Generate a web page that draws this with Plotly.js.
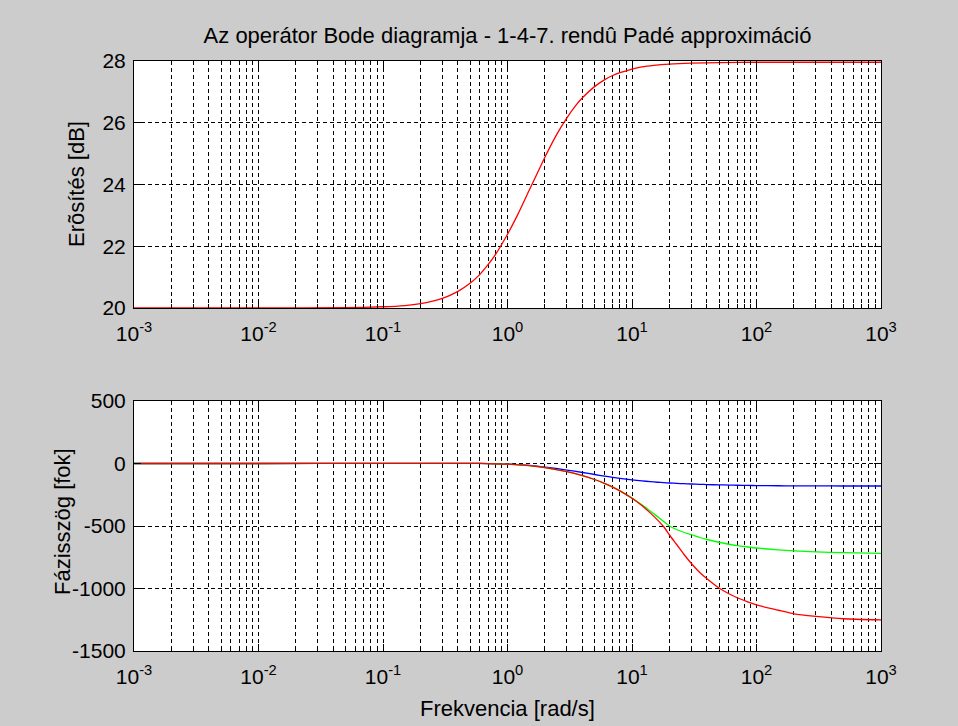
<!DOCTYPE html>
<html>
<head>
<meta charset="utf-8">
<script src="https://cdn.plot.ly/plotly-3.0.1.min.js"></script>
<style>html,body{margin:0;padding:0;background:#cccccc;}#chart{width:958px;height:726px;}</style>
</head>
<body>
<div id="chart"></div>
<script>
// ---- Gain (top panel) ----
const gainFreq = [0.001, 0.01, 0.05, 0.1, 0.15, 0.2, 0.25, 0.3, 0.4, 0.5, 0.6, 0.7, 0.8, 1, 1.2, 1.5, 1.8, 2, 2.5, 3, 3.5, 4, 5, 6, 7, 8, 10, 12, 15, 20, 30, 50, 100, 1000];
const gainDb   = [20.00, 20.00, 20.01, 20.04, 20.08, 20.14, 20.22, 20.31, 20.54, 20.80, 21.09, 21.41, 21.73, 22.39, 23.00, 23.83, 24.50, 24.89, 25.64, 26.16, 26.54, 26.81, 27.17, 27.39, 27.53, 27.62, 27.74, 27.81, 27.86, 27.90, 27.93, 27.95, 27.96, 27.96];

// ---- Phase (bottom panel) ----
const phaseFreq = [0.001, 0.01, 0.1, 0.3, 0.5, 0.7, 1, 1.5, 2, 3, 4, 5, 6, 7, 8, 10, 12, 14, 16, 18, 20, 23, 26, 30, 35, 40, 50, 60, 70, 85, 100, 150, 200, 300, 500, 1000];
const phasePade1 = [0, 0.06, 0.5, 1.0, 0.8, -0.5, -4.9, -15.8, -28.4, -52.4, -72.0, -88.0, -100.5, -110.5, -118.5, -130.5, -139.0, -145.0, -150.0, -153.5, -156.0, -159.0, -161.5, -164.0, -166.5, -168.5, -171.0, -172.5, -174.0, -175.5, -176.5, -178.0, -178.8, -179.4, -179.8, -180.0];
const phasePade4 = [0, 0.06, 0.5, 1.0, 0.8, -0.7, -5.45, -17.6, -32.5, -64.6, -96.6, -128.0, -158.7, -189.0, -219.0, -277.0, -331.0, -380.0, -425.0, -465.0, -500.0, -530.0, -550.0, -570.0, -592.0, -608.0, -630.0, -646.0, -657.0, -668.0, -676.0, -691.0, -699.0, -707.0, -713.0, -719.0];
const phasePade7 = [0, 0.06, 0.5, 1.0, 0.8, -0.7, -5.45, -17.6, -32.5, -64.6, -96.6, -128.0, -158.7, -189.0, -219.0, -278.2, -336.8, -395.0, -451.0, -506.0, -572.0, -652.0, -724.0, -800.0, -872.0, -922.0, -996.0, -1042.0, -1074.0, -1107.0, -1131.0, -1174.0, -1203.0, -1223.0, -1242.0, -1251.0];

// ---- Axis tick labels ----
const xTickVals = [0.001, 0.01, 0.1, 1, 10, 100, 1000];
const xTickText = ['10<sup>-3</sup>', '10<sup>-2</sup>', '10<sup>-1</sup>', '10<sup>0</sup>', '10<sup>1</sup>', '10<sup>2</sup>', '10<sup>3</sup>'];
const gainTicks = [20, 22, 24, 26, 28];
const gainTickText = ['20', '22', '24', '26', '28'];
const phaseTicks = [-1500, -1000, -500, 0, 500];
const phaseTickText = ['-1500', '-1000', '-500', '0', '500'];

const titleText = 'Az operátor Bode diagramja - 1-4-7. rendû Padé approximáció';
const gainLabel = 'Erõsítés [dB]';
const phaseLabel = 'Fázisszög [fok]';
const freqLabel = 'Frekvencia [rad/s]';

const minorVals = [];
for (let i = 0; i < xTickVals.length - 1; i++) {
  for (let m = 2; m <= 9; m++) minorVals.push(xTickVals[i] * m);
}

const FONT = 'Liberation Sans, Arial, sans-serif';
const fsTick = 21;
const fsTitle = 22;
const dash = '4px,3px';

// plot area in pixels: x 134..881, y 61..651
const W = 958, H = 726, L = 134, R = 77, T = 61, B = 75;
const plotH = H - T - B;
const py = (p) => (H - B - p) / plotH;          // pixel y -> paper y
const px = (p) => (p - L) / (W - L - R);        // pixel x -> paper x

function xAxis(anchor) {
  return {
    type: 'log', range: [-3, 3], anchor: anchor,
    tickmode: 'array', tickvals: xTickVals, ticktext: xTickText,
    ticks: 'inside', ticklen: 7, tickcolor: '#000', tickwidth: 1,
    showgrid: true, gridcolor: '#000', gridwidth: 1, griddash: dash,
    minor: { tickmode: 'array', tickvals: minorVals, ticks: 'inside', ticklen: 4, tickcolor: '#000',
             showgrid: true, gridcolor: '#000', gridwidth: 1, griddash: dash },
    showline: true, linecolor: '#000', linewidth: 1, mirror: 'ticks',
    zeroline: false,
    tickfont: { family: FONT, size: fsTick, color: '#000' },
    ticklabelstandoff: 7
  };
}
function yAxis(range, ticks, text, domain, anchor) {
  return {
    range: range, domain: domain, anchor: anchor,
    tickmode: 'array', tickvals: ticks, ticktext: text,
    ticks: 'inside', ticklen: 7, tickcolor: '#000', tickwidth: 1,
    showgrid: true, gridcolor: '#000', gridwidth: 1, griddash: dash,
    showline: true, linecolor: '#000', linewidth: 1, mirror: 'ticks',
    zeroline: false,
    tickfont: { family: FONT, size: fsTick, color: '#000' },
    ticklabelstandoff: 3
  };
}

const lineOpts = (c) => ({ color: c, width: 1.3, shape: 'spline', smoothing: 0.6 });
const traces = [
  { x: gainFreq, y: gainDb, xaxis: 'x', yaxis: 'y', mode: 'lines', line: lineOpts('#ff0000'), showlegend: false },
  { x: phaseFreq, y: phasePade1, xaxis: 'x2', yaxis: 'y2', mode: 'lines', line: lineOpts('#0000ff'), showlegend: false },
  { x: phaseFreq, y: phasePade4, xaxis: 'x2', yaxis: 'y2', mode: 'lines', line: lineOpts('#00ff00'), showlegend: false },
  { x: phaseFreq, y: phasePade7, xaxis: 'x2', yaxis: 'y2', mode: 'lines', line: lineOpts('#ff0000'), showlegend: false }
];

const tf = { family: FONT, size: fsTitle, color: '#000' };
const layout = {
  width: W, height: H,
  paper_bgcolor: '#cccccc', plot_bgcolor: '#ffffff',
  margin: { l: L, r: R, t: T, b: B },
  showlegend: false,
  title: { text: titleText, font: tf, x: 0.5, xref: 'paper', y: 1 - 35 / H, yref: 'container', yanchor: 'middle' },
  xaxis: xAxis('y'),
  yaxis: yAxis([20, 28], gainTicks, gainTickText, [py(308), 1], 'x'),
  xaxis2: xAxis('y2'),
  yaxis2: yAxis([-1500, 500], phaseTicks, phaseTickText, [0, py(401)], 'x2'),
  annotations: [
    { text: gainLabel, font: tf, textangle: -90, xref: 'paper', yref: 'paper', x: px(76), y: py(184), xanchor: 'center', yanchor: 'middle', showarrow: false },
    { text: phaseLabel, font: tf, textangle: -90, xref: 'paper', yref: 'paper', x: px(62), y: py(522), xanchor: 'center', yanchor: 'middle', showarrow: false },
    { text: freqLabel, font: tf, xref: 'paper', yref: 'paper', x: 0.5, y: py(708), xanchor: 'center', yanchor: 'middle', showarrow: false }
  ]
};

Plotly.newPlot('chart', traces, layout, { staticPlot: true, displayModeBar: false });
</script>
</body>
</html>
